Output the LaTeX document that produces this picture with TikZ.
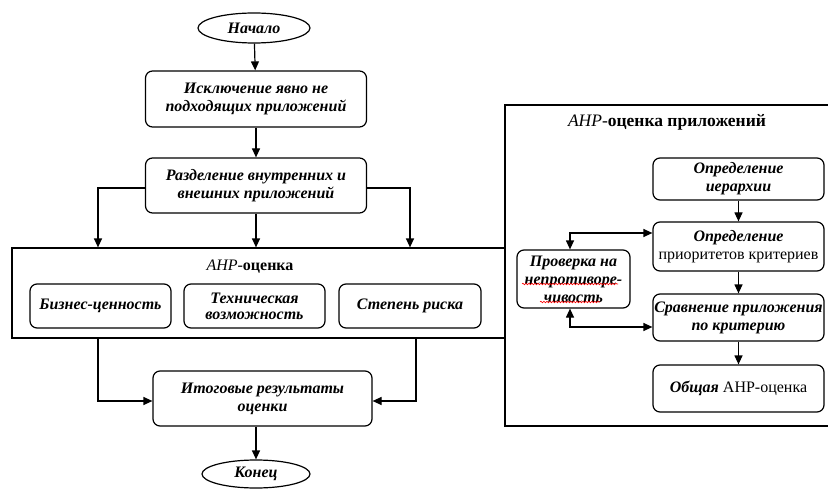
\documentclass[tikz,border=0pt]{standalone}
\usepackage{fontspec}
\setmainfont{Liberation Serif}
\usetikzlibrary{arrows.meta,shapes.geometric,decorations.pathmorphing}
\tikzset{
  every node/.style={font=\fontsize{16}{18}\selectfont},
  blk/.style={draw,line width=1.2pt,rounded corners=7pt,align=center,inner sep=0pt,font=\fontsize{16}{18}\selectfont\bfseries\itshape},
  term/.style={draw,ellipse,line width=1.2pt,inner sep=0pt,font=\fontsize{16}{18}\selectfont\bfseries\itshape},
  frame/.style={draw,line width=1.2pt,inner sep=0pt},
  arr/.style={line width=1.2pt,-{Triangle[length=9pt,width=8pt]}},
  darr/.style={line width=1.2pt,{Triangle[length=9pt,width=8pt]}-{Triangle[length=9pt,width=8pt]}},
  ln/.style={line width=1.2pt},
  spell/.style={draw=red,line width=0.6pt,decorate,decoration={snake,amplitude=0.8pt,segment length=3pt}}
}
\begin{document}
\begin{tikzpicture}[x=1pt,y=-1pt]
\useasboundingbox (0,0) rectangle (828,492);
% left flow
\node[term,minimum width=112pt,minimum height=30pt] (start) at (254,28) {Начало};
\node[blk,minimum width=221pt,minimum height=56pt] (b1) at (256,99) {Исключение явно не\\подходящих приложений};
\node[blk,minimum width=221pt,minimum height=55pt] (b2) at (256,185.5) {Разделение внутренних и\\внешних приложений};
\node[frame,minimum width=493pt,minimum height=90pt] (ahp) at (258.5,293) {};
\node (ahpt) at (250,267) {\textit{AHP}-\textbf{оценка}};
\node[blk,minimum width=141pt,minimum height=44pt] (biz) at (100.5,306) {Бизнес-ценность};
\node[blk,minimum width=141pt,minimum height=44pt] (tech) at (254.5,306) {Техническая\\[-2pt]возможность};
\node[blk,minimum width=142pt,minimum height=44pt] (risk) at (410,306) {Степень риска};
\node[blk,minimum width=219pt,minimum height=55pt] (res) at (262.5,398.5) {Итоговые результаты\\оценки};
\node[term,minimum width=108pt,minimum height=28pt] (end) at (256,474) {Конец};
\coordinate (l1) at (98,188);
\coordinate (r1) at (410,188);
\coordinate (l2) at (98,401);
\coordinate (r2) at (416,401);
\draw[arr] (start) -- (b1);
\draw[arr] (b1) -- (b2);
\draw[arr] (b2.south) -- (b2.south |- ahp.north);
\draw[arr] (b2.west |- l1) -- (l1) -- (l1 |- ahp.north);
\draw[arr] (b2.east |- r1) -- (r1) -- (r1 |- ahp.north);
\draw[arr] (l2 |- ahp.south) -- (l2) -- (res.west |- l2);
\draw[arr] (r2 |- ahp.south) -- (r2) -- (res.east |- r2);
\draw[arr] (res.south -| end.north) -- (end.north);
% right frame
\coordinate (rt) at (505,105);
\coordinate (rb) at (505,426);
\draw[ln] (828,105) -- (rt) -- (rb) -- (828,426);
\node[font=\fontsize{17.5}{20}\selectfont] (rtitle) at (667,122) {\textit{AHP}-\textbf{оценка приложений}};
\node[blk,minimum width=171pt,minimum height=42pt] (hier) at (738.5,179) {Определение\\иерархии};
\node[blk,minimum width=171pt,minimum height=49pt] (prio) at (738.5,246.5) {Определение\\\normalfont приоритетов критериев};
\node[blk,minimum width=171pt,minimum height=47pt] (comp) at (738.5,317.5) {Сравнение приложения\\по критерию};
\node[blk,minimum width=171pt,minimum height=47pt] (tot) at (738.5,388.5) {Общая \normalfont АНР-оценка};
\node[blk,minimum width=113pt,minimum height=58pt] (chk) at (573.5,279) {Проверка на\\непротиворе-\\чивость};
\coordinate (c1) at (570,233);
\coordinate (c2) at (570,327);
\draw[arr] (hier) -- (prio);
\draw[arr] (prio) -- (comp);
\draw[arr] (comp) -- (tot);
\draw[darr] (c1 |- chk.north) -- (c1) -- (prio.west |- c1);
\draw[darr] (c2 |- chk.south) -- (c2) -- (comp.west |- c2);
\draw[spell] (522,284) -- (618,284);
\draw[spell] (540,302) -- (600,302);
\end{tikzpicture}
\end{document}
